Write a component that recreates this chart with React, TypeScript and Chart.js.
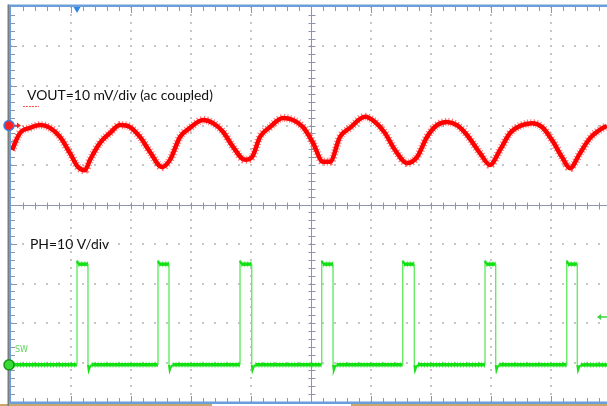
import React, { useEffect, useRef } from "react";
import { Chart, registerables } from "chart.js";

Chart.register(...registerables);

// ---- DATA (time in screen divisions from the left graticule edge) ----
const voutTimeDiv = [
  0.017, 0.15, 0.317, 0.483, 0.65, 0.817, 0.983, 1.117, 1.233, 1.317, 1.483, 1.65, 1.817, 1.983,
  2.15, 2.317, 2.517, 2.65, 2.817, 2.983, 3.2, 3.367, 3.533, 3.7, 3.9, 4.017, 4.15, 4.317, 4.533,
  4.7, 4.867, 5.033, 5.2, 5.317, 5.483, 5.65, 5.9, 6.067, 6.233, 6.4, 6.6, 6.767, 6.933, 7.1,
  7.267, 7.433, 7.6, 7.817, 7.983, 8.15, 8.317, 8.483, 8.683, 8.85, 9.017, 9.183, 9.317, 9.483,
  9.65, 9.867, 9.933,
];
const voutMv = [
  -6.2, -1.9, -0.6, 0.1, -0.6, -2.9, -7.0, -10.5, -11.3, -8.7, -4.4, -1.9, 0.1, -0.4,
  -2.9, -6.7, -10.5, -8.7, -2.9, -0.6, 1.4, 0.6, -1.6, -5.4, -8.7, -8.0, -2.9, -0.4, 1.9,
  1.4, -0.4, -4.4, -9.2, -9.2, -2.9, -0.6, 2.2, 0.9, -1.9, -6.2, -9.5, -8.0, -2.9, 0.1,
  0.9, 0.1, -2.4, -7.0, -10.0, -6.2, -1.9, -0.1, 0.6, -0.4, -3.7, -8.0, -10.8, -7.0,
  -3.2, -0.6, -0.1,
];

const phRiseDiv = [1.1, 2.45, 3.817, 5.178, 6.528, 7.9, 9.262];
const phFallDiv = [1.283, 2.633, 4.012, 5.367, 6.722, 8.078, 9.438];
const phHighV = 25.5;
const phOvershootV = 26.4;
const phLowV = 0;
const phUndershootV = -1.4;
const phEdgeOffsetsDiv = [0.02, 0.012, 0.035, 0.06]; // overshoot settle, undershoot, recover, settle

const xMaxDiv = 9.933;
const voutRange = [-70, 30]; // mV, 10 mV/div
const phRange = [-9.4, 90.6]; // V, 10 V/div
const triggerLevelV = 12.1;

const labelVout = "VOUT=10 mV/div (ac coupled)";
const labelPh = "PH=10 V/div";
const labelSw = "SW";

function buildPh() {
  const pts: { x: number; y: number }[] = [{ x: 0, y: phLowV }];
  for (let i = 0; i < phRiseDiv.length; i++) {
    const r = phRiseDiv[i];
    const f = phFallDiv[i];
    pts.push({ x: r, y: phLowV });
    pts.push({ x: r, y: phOvershootV });
    pts.push({ x: r + phEdgeOffsetsDiv[0], y: phHighV });
    pts.push({ x: f, y: phHighV });
    pts.push({ x: f, y: phLowV });
    pts.push({ x: f + phEdgeOffsetsDiv[1], y: phUndershootV });
    pts.push({ x: f + phEdgeOffsetsDiv[2], y: -0.4 });
    pts.push({ x: f + phEdgeOffsetsDiv[3], y: phLowV });
  }
  pts.push({ x: xMaxDiv, y: phLowV });
  return pts;
}

const graticule = {
  id: "graticule",
  beforeDatasetsDraw(chart: any) {
    const ctx = chart.ctx;
    const xs = chart.scales.x;
    const ys = chart.scales.yv;
    const px = (d: number) => xs.getPixelForValue(d);
    const py = (d: number) => ys.getPixelForValue(voutRange[0] + 10 * d);
    ctx.save();
    // dotted grid
    ctx.fillStyle = "#c6c6c6";
    for (let i = 1; i <= 10; i++) {
      if (i === 5) continue;
      const X = Math.round(px(i));
      for (let m = 0; m <= 50; m++) {
        const Y = Math.round(py(m * 0.2));
        ctx.fillRect(X - 1, Y - 1, 2, 2);
      }
    }
    for (let j = 1; j < 10; j++) {
      if (j === 5) continue;
      const Y = Math.round(py(j));
      for (let m = 0; m <= 50; m++) {
        const X = Math.round(px(m * 0.2));
        ctx.fillRect(X - 1, Y - 1, 2, 2);
      }
    }
    // centre cross
    ctx.strokeStyle = "#8d95a8";
    ctx.lineWidth = 1;
    const cx = Math.round(px(5)) + 0.5;
    const cy = Math.round(py(5)) + 0.5;
    ctx.beginPath();
    ctx.moveTo(cx, py(10));
    ctx.lineTo(cx, py(0));
    ctx.moveTo(px(0), cy);
    ctx.lineTo(chart.width, cy);
    for (let m = 1; m < 50; m++) {
      const Y = Math.round(py(m * 0.2)) + 0.5;
      ctx.moveTo(cx - 3, Y);
      ctx.lineTo(cx + 4, Y);
      const X = Math.round(px(m * 0.2)) + 0.5;
      ctx.moveTo(X, cy - 3);
      ctx.lineTo(X, cy + 4);
    }
    // border ticks
    const top = py(10);
    const bot = py(0);
    const left = px(0);
    for (let m = 1; m < 50; m++) {
      const X = Math.round(px(m * 0.2)) + 0.5;
      const len = m % 5 === 0 ? 6 : 4;
      ctx.moveTo(X, top);
      ctx.lineTo(X, top + len);
      ctx.moveTo(X, bot);
      ctx.lineTo(X, bot - len);
      const Y = Math.round(py(m * 0.2)) + 0.5;
      ctx.moveTo(left, Y);
      ctx.lineTo(left + len, Y);
    }
    ctx.stroke();
    // borders
    ctx.fillStyle = "#c9a66b";
    ctx.fillRect(0, 404, 212, 2);
    ctx.fillRect(351, 404, chart.width - 351, 2);
    ctx.fillStyle = "#6a9fdc";
    ctx.fillRect(8, top - 2.5, chart.width - 8, 2.5);
    ctx.fillRect(8, bot - 0.5, chart.width - 8, 2.5);
    ctx.fillStyle = "#7b7b7b";
    ctx.fillRect(7.5, top - 2.5, 1.5, chart.height);
    ctx.fillStyle = "#6a9fdc";
    ctx.fillRect(9, top - 1, 2, bot - top + 2);
    ctx.restore();
  },
};

const overlay = {
  id: "overlay",
  afterDatasetsDraw(chart: any) {
    const ctx = chart.ctx;
    const xs = chart.scales.x;
    const yv = chart.scales.yv;
    const ysw = chart.scales.ysw;
    const top = yv.getPixelForValue(voutRange[1]);
    ctx.save();
    // texts
    ctx.fillStyle = "#111111";
    ctx.textBaseline = "alphabetic";
    let size = 14;
    ctx.font = `${size}px Lato`;
    const w = ctx.measureText(labelVout).width;
    size = (size * 186) / w;
    ctx.font = `${size}px Lato`;
    ctx.fillText(labelVout, 27, 100);
    ctx.fillText(labelPh, 30, 249);
    ctx.fillStyle = "#5fd35f";
    ctx.font = "8px 'DejaVu Sans'";
    ctx.fillText(labelSw, 15, 352);
    // tiny red channel tag
    ctx.strokeStyle = "#ff5050";
    ctx.lineWidth = 1;
    ctx.setLineDash([2, 1]);
    ctx.beginPath();
    ctx.moveTo(23, 106.5);
    ctx.lineTo(39, 106.5);
    ctx.stroke();
    ctx.setLineDash([]);
    // channel 1 ground marker
    const y1 = yv.getPixelForValue(0);
    ctx.fillStyle = "#ff2020";
    ctx.beginPath();
    ctx.moveTo(13, y1 - 0.75);
    ctx.lineTo(17, y1 - 0.75);
    ctx.lineTo(17, y1 - 3);
    ctx.lineTo(21, y1);
    ctx.lineTo(17, y1 + 3);
    ctx.lineTo(17, y1 + 0.75);
    ctx.lineTo(13, y1 + 0.75);
    ctx.closePath();
    ctx.fill();
    ctx.beginPath();
    ctx.arc(9, y1, 5, 0, Math.PI * 2);
    ctx.fillStyle = "#ff2020";
    ctx.fill();
    ctx.lineWidth = 1.5;
    ctx.strokeStyle = "#3d7fe0";
    ctx.stroke();
    // channel 2 ground marker
    const y2 = ysw.getPixelForValue(0);
    ctx.beginPath();
    ctx.arc(9, y2, 5, 0, Math.PI * 2);
    ctx.fillStyle = "#33dd33";
    ctx.fill();
    ctx.strokeStyle = "#1f8f1f";
    ctx.stroke();
    // trigger position
    const tx = xs.getPixelForValue(phRiseDiv[0]);
    ctx.fillStyle = "#2f86e6";
    ctx.beginPath();
    ctx.moveTo(tx - 3.5, top);
    ctx.lineTo(tx + 3.5, top);
    ctx.lineTo(tx, top + 6);
    ctx.closePath();
    ctx.fill();
    // trigger level
    const ty = ysw.getPixelForValue(triggerLevelV);
    ctx.fillStyle = "#3fd23f";
    ctx.beginPath();
    ctx.moveTo(597, ty);
    ctx.lineTo(601, ty - 3);
    ctx.lineTo(601, ty - 0.75);
    ctx.lineTo(chart.width, ty - 0.75);
    ctx.lineTo(chart.width, ty + 0.75);
    ctx.lineTo(601, ty + 0.75);
    ctx.lineTo(601, ty + 3);
    ctx.closePath();
    ctx.fill();
    ctx.restore();
  },
};

export default function App() {
  const ref = useRef<HTMLCanvasElement | null>(null);
  useEffect(() => {
    if (!ref.current) return;
    const vout = voutTimeDiv.map((t, i) => ({ x: t, y: voutMv[i] }));
    const ph = buildPh();
    const isVert = (c: any) => Math.abs(c.p0.parsed.x - c.p1.parsed.x) < 1e-6;
    const isFlat = (c: any) => Math.abs(c.p0.parsed.y - c.p1.parsed.y) < 1e-6;
    const chart = new Chart(ref.current, {
      type: "line",
      data: {
        datasets: [
          {
            label: "VOUT noise",
            data: vout,
            yAxisID: "yv",
            borderColor: "rgba(255,0,0,0.55)",
            borderWidth: 8,
            borderDash: [1, 2],
            pointRadius: 0,
            cubicInterpolationMode: "monotone",
          },
          {
            label: "VOUT",
            data: vout,
            yAxisID: "yv",
            borderColor: "#ff0000",
            borderWidth: 4.5,
            pointRadius: 0,
            cubicInterpolationMode: "monotone",
          },
          {
            label: "PH noise",
            data: ph,
            yAxisID: "ysw",
            borderColor: "rgba(0,225,0,0.5)",
            borderWidth: 6,
            borderDash: [1, 2],
            pointRadius: 0,
            tension: 0,
            segment: {
              borderColor: (c: any) => (isFlat(c) ? undefined : "rgba(0,0,0,0)"),
            },
          },
          {
            label: "PH",
            data: ph,
            yAxisID: "ysw",
            borderColor: "#16e016",
            borderWidth: 3.5,
            pointRadius: 0,
            tension: 0,
            segment: {
              borderColor: (c: any) => (isVert(c) ? "#66ea66" : undefined),
              borderWidth: (c: any) => (isVert(c) ? 1.4 : isFlat(c) ? undefined : 2),
            },
          },
        ] as any,
      },
      options: {
        responsive: false,
        animation: false,
        devicePixelRatio: 1,
        events: [],
        layout: { autoPadding: false, padding: { left: 11, top: 7, right: 0, bottom: 4 } },
        plugins: { legend: { display: false }, tooltip: { enabled: false } },
        scales: {
          x: { type: "linear", min: 0, max: xMaxDiv, display: false },
          yv: { type: "linear", min: voutRange[0], max: voutRange[1], display: false },
          ysw: { type: "linear", min: phRange[0], max: phRange[1], display: false },
        },
      } as any,
      plugins: [graticule, overlay],
    });
    return () => chart.destroy();
  }, []);
  return (
    <div style={{ position: "fixed", left: 0, top: 0, width: 607, height: 406, background: "#ffffff" }}>
      <canvas ref={ref} width={607} height={406} style={{ display: "block" }} />
    </div>
  );
}
